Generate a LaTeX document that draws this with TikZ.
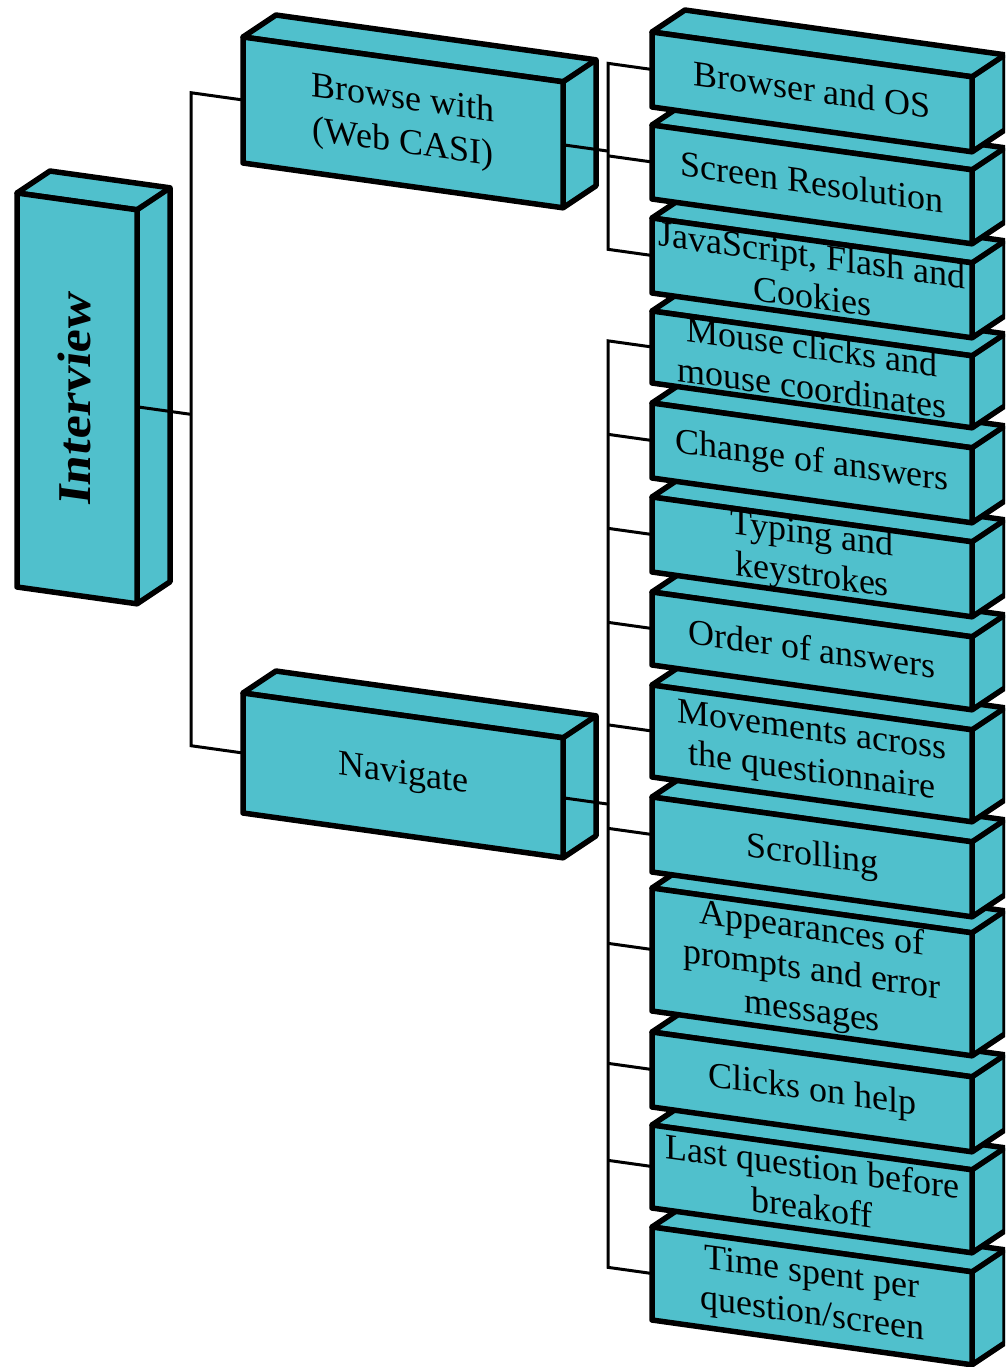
\documentclass[tikz,border=0pt]{standalone}
\usepackage{fontspec}
\setmainfont{Liberation Serif}
\newfontfamily\ivfont{Liberation Serif}[FakeStretch=1.1]
\definecolor{boxteal}{RGB}{80,192,204}
\newcommand\vstrut{\rule[-5pt]{0pt}{30pt}}
\tikzset{
  cubefront/.style={draw=black, fill=boxteal, line width=5.5pt, line join=round,
    transform shape, inner sep=0pt, outer sep=0pt, align=center, text=black,
    font=\fontsize{36}{41}\selectfont,
    execute at begin node=\vstrut, execute at end node=\vstrut},
  cubeside/.style={draw=black, fill=boxteal, line width=5.5pt, line join=round},
  link/.style={draw=black, line width=3pt},
}
% \drawcube[opts]{name}{left x}{top y (downwards)}{width}{height}{text}
\newcommand\drawcube[7][]{%
  \pgfmathsetmacro\cbcx{#3+#5/2}%
  \pgfmathsetmacro\cbcy{-(#4+#6/2)+0.14*#3}%
  \pgfmathsetmacro\cbty{-#4+0.14*#3}%
  \pgfmathsetmacro\cbrx{#3+#5}%
  \filldraw[cubeside] (#3,\cbty) -- ++(33,26.6) -- ++(#5,0) -- ++(0,-#6)
    -- ++(-33,-26.6) -- (\cbrx,\cbty) -- cycle;
  \draw[cubeside] (\cbrx,\cbty) -- ++(33,26.6);
  \node[cubefront, minimum width=#5, minimum height=#6, #1] (#2) at (\cbcx,\cbcy) {#7};
}
\begin{document}
\begin{tikzpicture}[x=1pt,y=1pt]
\useasboundingbox (0,0) rectangle (1005,-1367);
\clip (0,0) rectangle (1005,-1367);
\begin{scope}[yslant=-0.14]
  % right column, drawn from the bottom up so upper boxes overlap lower ones
  \drawcube{timespent}{652}{1227}{320}{93}{Time spent per\\question/screen}
  \drawcube{breakoff}{652}{1125}{320}{83}{Last question before\\breakoff}
  \drawcube{clicks}{652}{1032}{320}{75}{Clicks on help}
  \drawcube{appearances}{652}{888}{320}{123}{Appearances of\\prompts and error\\messages}
  \drawcube{scrolling}{652}{797}{320}{75}{Scrolling}
  \drawcube{movements}{652}{685}{320}{92}{Movements across\\the questionnaire}
  \drawcube{order}{652}{592}{320}{73}{Order of answers}
  \drawcube{typing}{652}{497}{320}{75}{Typing and\\keystrokes}
  \drawcube{change}{652}{403}{320}{75}{Change of answers}
  \drawcube{mouse}{652}{311}{320}{72}{Mouse clicks and\\mouse coordinates}
  \drawcube{javascript}{652}{218}{320}{75}{JavaScript, Flash and\\Cookies}
  \drawcube{screen}{652}{125}{320}{74}{Screen Resolution}
  \drawcube{browser}{652}{32}{320}{75}{Browser and OS}

  % middle column
  \drawcube[font=\fontsize{36}{44}\selectfont]{browse}{243}{37}{320}{126}{Browse with\\(Web CASI)}
  \drawcube{navigate}{243}{693}{320}{120}{Navigate}

  % root
  \drawcube[rotate=90, minimum width=394, minimum height=120,
    font=\ivfont\bfseries\fontsize{47}{50}\selectfont]{interview}{17}{193}{120}{394}{Interview}

  % junction points on the trunks
  \path (interview.south) ++(54,0) coordinate (ivj);
  \path (browse.west) ++(-52,0) coordinate (bwj);
  \path (navigate.west) ++(-52,0) coordinate (nvj);
  \path (browse.east) ++(46,0) coordinate (bej);
  \path (navigate.east) ++(46,0) coordinate (nej);
  \foreach \n in {browser,screen,javascript,mouse,change,typing,order,
                  movements,scrolling,appearances,clicks,breakoff,timespent}
    {\path (\n.west) ++(-44,0) coordinate (\n-j);}

  % connectors
  \draw[link] (interview.south) -- (ivj);
  \draw[link] (browse.west) -- (bwj) -- (nvj) -- (navigate.west);
  \draw[link] (browse.east) -- (bej);
  \draw[link] (browser.west) -- (browser-j) -- (javascript-j) -- (javascript.west);
  \draw[link] (screen-j) -- (screen.west);
  \draw[link] (navigate.east) -- (nej);
  \draw[link] (mouse.west) -- (mouse-j) -- (timespent-j) -- (timespent.west);
  \foreach \n in {change,typing,order,movements,scrolling,appearances,clicks,breakoff}
    {\draw[link] (\n-j) -- (\n.west);}
\end{scope}
\end{tikzpicture}
\end{document}
